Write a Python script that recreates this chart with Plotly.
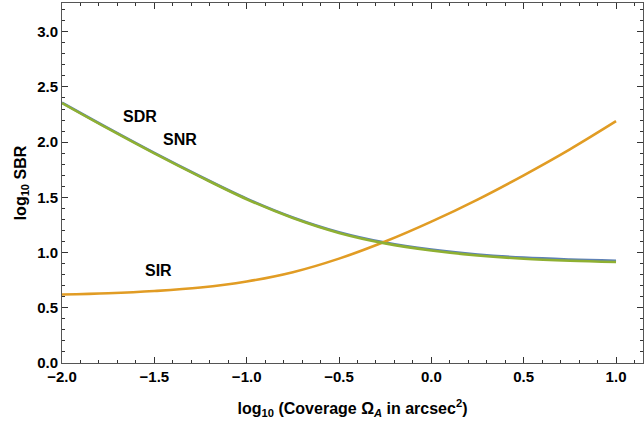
import plotly.graph_objects as go

x_vals = [-2.0, -1.75, -1.5, -1.25, -1.0, -0.75, -0.5, -0.25, 0.0, 0.25, 0.5, 0.75, 1.0]
sdr = [2.357, 2.126, 1.902, 1.689, 1.488, 1.318, 1.184, 1.09, 1.027, 0.983, 0.954, 0.937, 0.926]
snr = [2.354, 2.122, 1.898, 1.685, 1.483, 1.313, 1.178, 1.083, 1.019, 0.974, 0.944, 0.926, 0.914]
sir = [0.62, 0.632, 0.652, 0.683, 0.738, 0.822, 0.945, 1.10, 1.28, 1.48, 1.70, 1.935, 2.19]

labels = ["SDR", "SNR", "SIR"]
label_x = [-1.578, -1.361, -1.48]
label_y = [2.23, 2.02, 0.834]

FONT = "Liberation Sans, Arial, sans-serif"

fig = go.Figure()
fig.add_trace(go.Scatter(x=x_vals, y=sdr, mode="lines", line=dict(color="#5E81B5", width=2.6, shape="spline"), name="SDR"))
fig.add_trace(go.Scatter(x=x_vals, y=sir, mode="lines", line=dict(color="#E19C24", width=2.6, shape="spline"), name="SIR"))
fig.add_trace(go.Scatter(x=x_vals, y=snr, mode="lines", line=dict(color="#8FB032", width=2.6, shape="spline"), name="SNR"))

for t, xx, yy in zip(labels, label_x, label_y):
    fig.add_annotation(x=xx, y=yy, text=f"<b>{t}</b>", showarrow=False,
                       font=dict(family=FONT, size=16, color="black"))

axis_common = dict(
    showgrid=False, zeroline=False, showline=True, linecolor="#555", linewidth=1,
    mirror="allticks", ticks="inside", ticklen=6, tickwidth=1, tickcolor="#333",
    tickfont=dict(family=FONT, size=15, color="black", weight="bold"),
)

fig.update_layout(
    width=644, height=429,
    margin=dict(l=62, r=1, t=3, b=66),
    plot_bgcolor="white", paper_bgcolor="white",
    showlegend=False,
    xaxis=dict(range=[-2, 1.146], tickvals=[-2, -1.5, -1, -0.5, 0, 0.5, 1],
               ticktext=["\u22122.0", "\u22121.5", "\u22121.0", "\u22120.5", "0.0", "0.5", "1.0"],
               minor=dict(dtick=0.1, tick0=0, ticks="inside", ticklen=3, tickcolor="#333"),
               title=dict(text="<b>log<sub>10</sub> (Coverage \u03a9<sub><i>A</i></sub> in arcsec<sup>2</sup>)</b>",
                          font=dict(family=FONT, size=16, color="black"), standoff=18),
               **axis_common),
    yaxis=dict(range=[0, 3.26], tickvals=[0, 0.5, 1, 1.5, 2, 2.5, 3],
               ticktext=["0.0", "0.5", "1.0", "1.5", "2.0", "2.5", "3.0"],
               minor=dict(dtick=0.1, tick0=0, ticks="inside", ticklen=3, tickcolor="#333"),
               title=dict(text="<b>log<sub>10</sub> SBR</b>",
                          font=dict(family=FONT, size=16, color="black"), standoff=6),
               **axis_common),
)

fig.write_html("out.html")
